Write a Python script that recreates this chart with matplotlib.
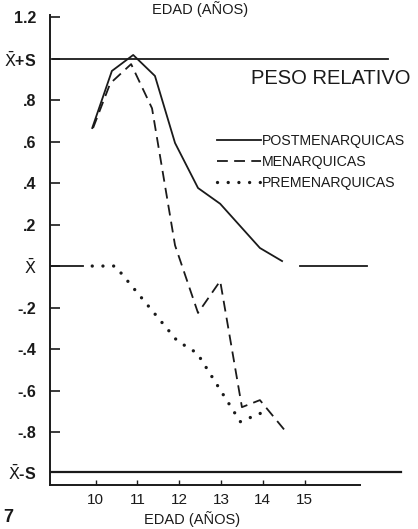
import numpy as np
import matplotlib
matplotlib.use('Agg')
import matplotlib.pyplot as plt

plt.rcParams['font.family'] = ['Liberation Sans', 'DejaVu Sans']

# values (edad en años, peso relativo)
post_x = [9.92, 10.39, 10.90, 11.42, 11.90, 12.45, 12.98, 13.93, 14.46]
post_y = [0.665, 0.94, 1.017, 0.916, 0.593, 0.376, 0.30, 0.087, 0.024]

men_x = [9.94, 10.35, 10.85, 11.35, 11.90, 12.45, 12.98, 13.50, 13.93, 14.58]
men_y = [0.665, 0.88, 0.973, 0.76, 0.10, -0.226, -0.072, -0.68, -0.646, -0.805]

pre_x = [9.92, 10.47, 11.95, 12.43, 13.46, 13.94]
pre_y = [0.0, 0.0, -0.36, -0.42, -0.75, -0.71]

mean_val = 0.0
plus_s = 1.0
minus_s = -0.99

ytick_vals = [1.2, plus_s, 0.8, 0.6, 0.4, 0.2, mean_val, -0.2, -0.4, -0.6, -0.8, minus_s]
ytick_labels = ['1.2', r'$\bar{\mathrm{X}}$+S', '.8', '.6', '.4', '.2', r'$\bar{\mathrm{X}}$',
                '-.2', '-.4', '-.6', '-.8', r'$\bar{\mathrm{X}}$-S']
xtick_vals = [10, 11, 12, 13, 14, 15]

fig = plt.figure(figsize=(4.18, 5.29), dpi=100)
ax = fig.add_axes([50/418, 1-485/529, 355/418, 470/529])
ax.set_xlim(8.91, 17.4)
ax.set_ylim(-1.055, 1.2096)

ink = '#1a1a1a'
ax.plot(post_x, post_y, color=ink, lw=1.3, label='POSTMENARQUICAS')
ax.plot(men_x, men_y, color=ink, lw=1.3, ls=(0, (6, 3.5)), label='MENARQUICAS')
ax.plot(pre_x, pre_y, color=ink, lw=2.4, ls=(0, (0.01, 3.2)),
        dash_capstyle='round', label='PREMENARQUICAS')

# reference lines
ax.plot([8.98, 17.0], [plus_s, plus_s], color=ink, lw=1.3)
ax.plot([8.91, 17.3], [minus_s, minus_s], color=ink, lw=1.6)
ax.plot([8.91, 9.70], [mean_val, mean_val], color=ink, lw=1.3)
ax.plot([14.9, 16.5], [mean_val, mean_val], color=ink, lw=1.3)

for s in ['top', 'right']:
    ax.spines[s].set_visible(False)
ax.spines['left'].set_linewidth(1.4)
ax.spines['bottom'].set_linewidth(1.4)
ax.spines['bottom'].set_bounds(8.91, 16.33)
ax.spines['left'].set_color(ink)
ax.spines['bottom'].set_color(ink)

ax.set_yticks(ytick_vals)
ax.set_yticklabels(ytick_labels, fontsize=11.5, fontweight='bold')
ax.set_xticks(xtick_vals)
ax.set_xticklabels([str(v) for v in xtick_vals], fontsize=11)
ax.tick_params(axis='y', direction='in', length=7, width=1.2, pad=10, colors=ink)
ax.tick_params(axis='x', direction='in', length=3.5, width=1.0, pad=6, colors=ink)

ax.text(0.79, 0.865, 'PESO RELATIVO', transform=ax.transAxes, fontsize=14.5,
        ha='center', va='center', color=ink)

leg = ax.legend(loc='upper left', bbox_to_anchor=(0.45, 0.762), frameon=False,
                fontsize=10.2, handlelength=3.1, handletextpad=0.1,
                labelspacing=0.5, borderpad=0)
for t in leg.get_texts():
    t.set_color(ink)

fig.text(200/418, 1-1/529, 'EDAD (AÑOS)', fontsize=10.5, ha='center', va='top', color=ink)
fig.text(192/418, 1-519/529, 'EDAD (AÑOS)', fontsize=10.5, ha='center', va='center', color=ink)
fig.text(8/418, 1-518/529, '7', fontsize=13, fontweight='bold', ha='center', va='center', color=ink)

fig.savefig('out.png', dpi=100)
